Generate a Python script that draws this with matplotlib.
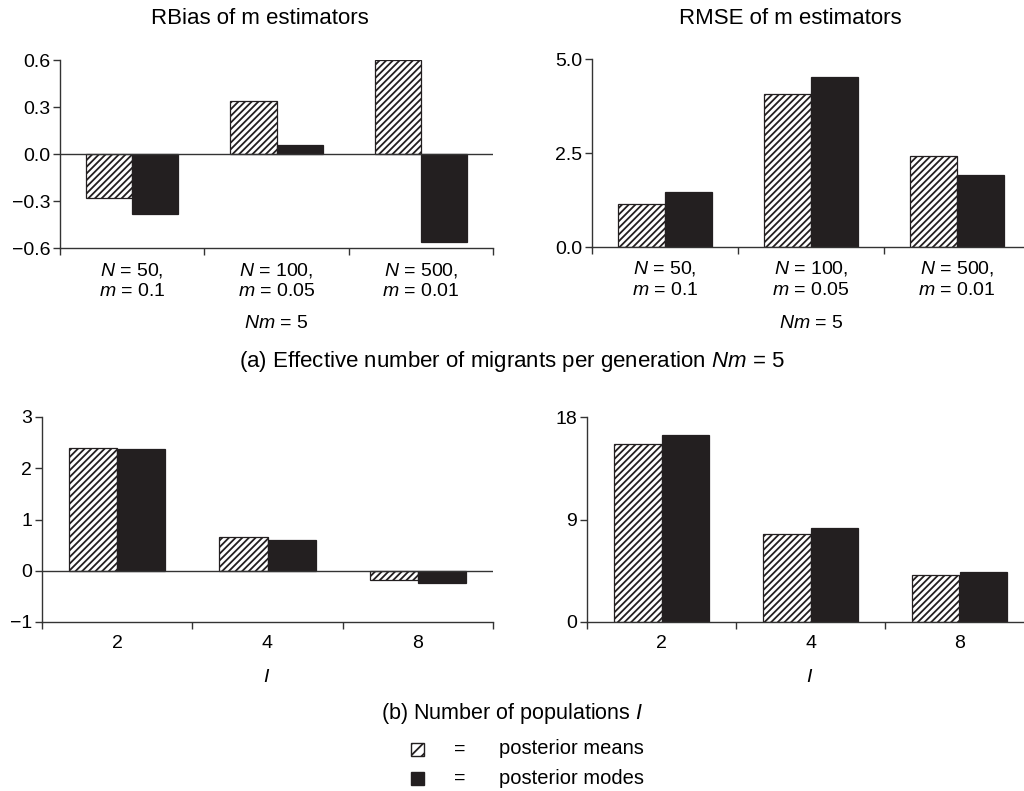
import numpy as np
import matplotlib
matplotlib.use("Agg")
import matplotlib.pyplot as plt
from matplotlib.patches import Rectangle

plt.rcParams['font.family'] = 'Liberation Sans'
plt.rcParams['mathtext.fontset'] = 'custom'
plt.rcParams['mathtext.rm'] = 'Liberation Sans'
plt.rcParams['mathtext.it'] = 'Liberation Sans:italic'
plt.rcParams['hatch.linewidth'] = 1.3

# data
cats_a = ["$N$ = 50,\n$m$ = 0.1", "$N$ = 100,\n$m$ = 0.05", "$N$ = 500,\n$m$ = 0.01"]
cats_b = ["2", "4", "8"]
rbias_means = [-0.28, 0.34, 0.60]
rbias_modes = [-0.38, 0.06, -0.56]
rmse_means = [1.15, 4.08, 2.41]
rmse_modes = [1.47, 4.53, 1.92]
rbias_I_means = [2.40, 0.65, -0.19]
rbias_I_modes = [2.38, 0.60, -0.23]
rmse_I_means = [15.6, 7.75, 4.15]
rmse_I_modes = [16.4, 8.25, 4.4]

W, H = 1024, 791
fig = plt.figure(figsize=(W / 100, H / 100), dpi=100)

def px(x, y):
    return x / W, 1 - y / H

def box(x0, x1, ytop, ybot):
    return [x0 / W, 1 - ybot / H, (x1 - x0) / W, (ybot - ytop) / H]

BLACK = '#231f20'
GREY = '#333333'
bw = 0.32
tfs = 14
HATCH = '/////'

def panel(rect, labels, means, modes, ylim, yticks, yticklabels):
    ax = fig.add_axes(rect)
    x = np.arange(len(means)) + 0.5
    ax.bar(x - bw / 2, means, bw, facecolor='white', edgecolor=BLACK,
           hatch=HATCH, linewidth=0.9)
    ax.bar(x + bw / 2, modes, bw, facecolor=BLACK, edgecolor=BLACK, linewidth=0.9)
    ax.set_xlim(0, 3)
    ax.set_ylim(*ylim)
    ax.set_yticks(yticks)
    ax.set_yticklabels(yticklabels, fontsize=tfs)
    ax.set_xticks([0, 1, 2, 3])
    ax.set_xticklabels([])
    ax.set_xticks(x, minor=True)
    ax.set_xticklabels(labels, minor=True, fontsize=tfs, linespacing=1.3)
    ax.tick_params(axis='x', which='minor', length=0, pad=9)
    ax.tick_params(axis='x', which='major', length=5, width=1, color=GREY, direction='out')
    ax.tick_params(axis='y', length=5, width=1, color=GREY, direction='out', pad=2)
    for s in ['top', 'right']:
        ax.spines[s].set_visible(False)
    for s in ['left', 'bottom']:
        ax.spines[s].set_color(GREY)
        ax.spines[s].set_linewidth(1)
    if ylim[0] < 0:
        ax.axhline(0, color=GREY, linewidth=1)
    return ax

panel(box(60, 493, 60, 248), cats_a, rbias_means, rbias_modes,
      (-0.6, 0.6), [-0.6, -0.3, 0, 0.3, 0.6], ['\u22120.6', '\u22120.3', '0.0', '0.3', '0.6'])
panel(box(592, 1030, 59, 247), cats_a, rmse_means, rmse_modes,
      (0, 5), [0, 2.5, 5], ['0.0', '2.5', '5.0'])
panel(box(42, 493, 417, 622), cats_b, rbias_I_means, rbias_I_modes,
      (-1, 3), [-1, 0, 1, 2, 3], ['\u22121', '0', '1', '2', '3'])
panel(box(587, 1034, 417, 622), cats_b, rmse_I_means, rmse_I_modes,
      (0, 18), [0, 9, 18], ['0', '9', '18'])

fs = 16
fig.text(*px(260, 18), "RBias of m estimators", ha='center', va='center', fontsize=fs)
fig.text(*px(790, 18), "RMSE of m estimators", ha='center', va='center', fontsize=fs)
fig.text(*px(276, 323), "$Nm$ = 5", ha='center', va='center', fontsize=tfs)
fig.text(*px(811, 323), "$Nm$ = 5", ha='center', va='center', fontsize=tfs)
fig.text(*px(512, 361), "(a) Effective number of migrants per generation $Nm$ = 5",
         ha='center', va='center', fontsize=fs)
fig.text(*px(267, 677), "$I$", ha='center', va='center', fontsize=tfs)
fig.text(*px(810, 677), "$I$", ha='center', va='center', fontsize=tfs)
fig.text(*px(512, 713), "(b) Number of populations $I$", ha='center', va='center', fontsize=15.5)

# legend
sq = 13
for yc, hatch, fc, lab in [(749, '///', 'white', 'posterior means'),
                          (778, None, BLACK, 'posterior modes')]:
    r = Rectangle(px(411, yc + sq / 2), sq / W, sq / H, transform=fig.transFigure,
                  facecolor=fc, edgecolor=BLACK, hatch=hatch, linewidth=1.0)
    fig.add_artist(r)
    fig.text(*px(460, yc), "=", ha='center', va='center', fontsize=tfs)
    fig.text(*px(499, yc), lab, ha='left', va='center', fontsize=14.5)

fig.savefig("out.png", dpi=100)
